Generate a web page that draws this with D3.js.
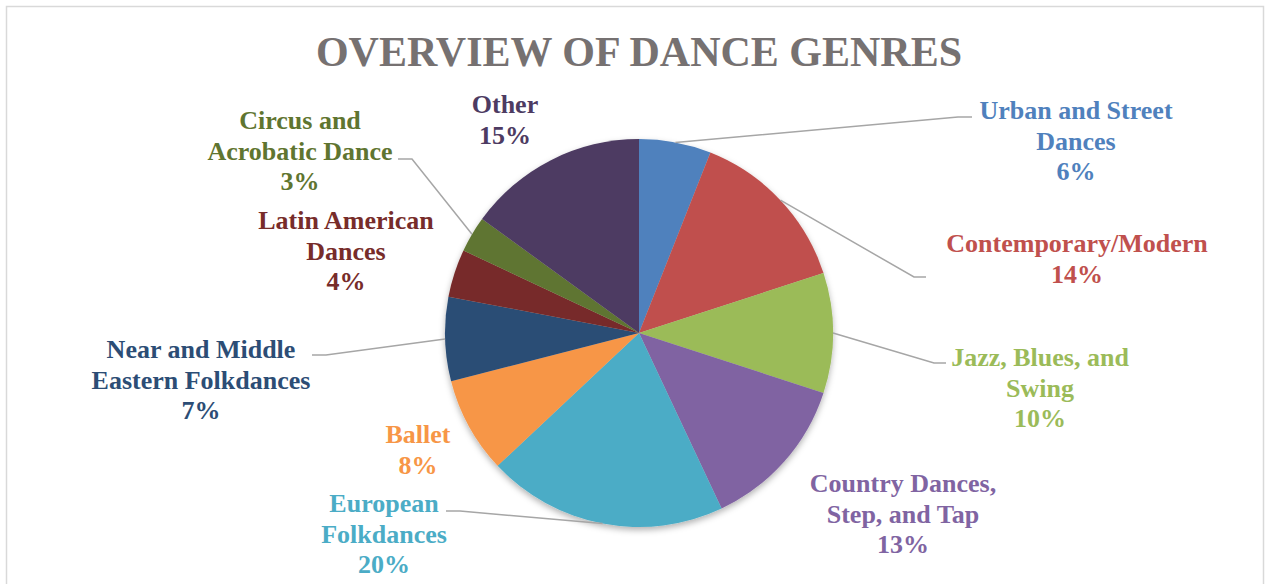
<!DOCTYPE html>
<html>
<head>
<meta charset="utf-8">
<script src="https://cdn.jsdelivr.net/npm/d3@7"></script>
<style>
  html, body { margin: 0; padding: 0; background: #fff; }
  svg { display: block; }
  text { font-family: "Liberation Serif", "Times New Roman", serif; font-weight: bold; }
</style>
</head>
<body>
<svg id="chart" width="1271" height="584"></svg>
<script>
// ---- data ----
const title = "OVERVIEW OF DANCE GENRES";
const categories = [
  "Urban and Street Dances",
  "Contemporary/Modern",
  "Jazz, Blues, and Swing",
  "Country Dances, Step, and Tap",
  "European Folkdances",
  "Ballet",
  "Near and Middle Eastern Folkdances",
  "Latin American Dances",
  "Circus and Acrobatic Dance",
  "Other"
];
const values = [6, 14, 10, 13, 20, 8, 7, 4, 3, 15];
const colors = ["#4F81BD", "#C0504D", "#9BBB59", "#8064A2", "#4BACC6",
                "#F79646", "#2C4D75", "#772C2A", "#5F7530", "#4D3B62"];
// how each category name wraps in its label
const labelLines = [
  ["Urban and Street", "Dances"],
  ["Contemporary/Modern"],
  ["Jazz, Blues, and", "Swing"],
  ["Country Dances,", "Step, and Tap"],
  ["European", "Folkdances"],
  ["Ballet"],
  ["Near and Middle", "Eastern Folkdances"],
  ["Latin American", "Dances"],
  ["Circus and", "Acrobatic Dance"],
  ["Other"]
];

// ---- layout ----
const W = 1271, H = 584;
const cx = 639, cy = 333, R = 194;
const lineH = 30.5;
// label anchor: [centerX, firstBaselineY], leader: [elbowX, elbowY, endX] or null
const labelPos = [
  [1076, 119], [1077, 252], [1040, 366], [903, 492], [384, 512],
  [418, 443], [201, 358], [346, 229], [300, 129], [505, 113]
];
const leaders = [
  [958, 117, 972], [914, 277, 926], [934, 363, 946], null, [460, 511, 446],
  null, [326, 355, 312], null, [412, 159, 398], null
];

const svg = d3.select("#chart");

const defs = svg.append("defs");
const f = defs.append("filter").attr("id", "shadow")
  .attr("x", "-10%").attr("y", "-10%").attr("width", "120%").attr("height", "125%");
f.append("feDropShadow").attr("dx", 0).attr("dy", 3).attr("stdDeviation", 3)
  .attr("flood-color", "#000").attr("flood-opacity", 0.3);

// border
svg.append("rect").attr("x", 6.5).attr("y", 6.5).attr("width", 1257).attr("height", 600)
  .attr("fill", "#fff").attr("stroke", "#d9d9d9").attr("stroke-width", 1.5);

// title
svg.append("text").attr("x", 639).attr("y", 66).attr("text-anchor", "middle")
  .attr("font-size", 42).attr("fill", "#767171").text(title);

const data = categories.map((c, i) => ({ name: c, value: values[i], i }));
const pie = d3.pie().value(d => d.value).sort(null);
const arcs = pie(data);
const arc = d3.arc().innerRadius(0).outerRadius(R);

const g = svg.append("g").attr("transform", `translate(${cx},${cy})`);
g.append("g").attr("filter", "url(#shadow)")
  .selectAll("path").data(arcs).enter().append("path")
  .attr("d", arc)
  .attr("fill", d => colors[d.data.i])
  .attr("stroke", "none");

// leader lines
const total = d3.sum(values);
const pct = d3.format(".0%");
arcs.forEach((a, i) => {
  const L = leaders[i];
  if (!L) return;
  const mid = (a.startAngle + a.endAngle) / 2;
  const sx = cx + R * Math.sin(mid), sy = cy - R * Math.cos(mid);
  svg.append("polyline")
    .attr("points", `${sx},${sy} ${L[0]},${L[1]} ${L[2]},${L[1]}`)
    .attr("fill", "none").attr("stroke", "#A6A6A6").attr("stroke-width", 1.5);
});

// labels
arcs.forEach((a, i) => {
  const [x, y] = labelPos[i];
  const lines = labelLines[i].concat([pct(values[i] / total)]);
  const t = svg.append("text").attr("text-anchor", "middle")
    .attr("font-size", 26).attr("fill", colors[i]);
  lines.forEach((ln, k) => {
    t.append("tspan").attr("x", x).attr("y", y + k * lineH).text(ln);
  });
});
</script>
</body>
</html>
